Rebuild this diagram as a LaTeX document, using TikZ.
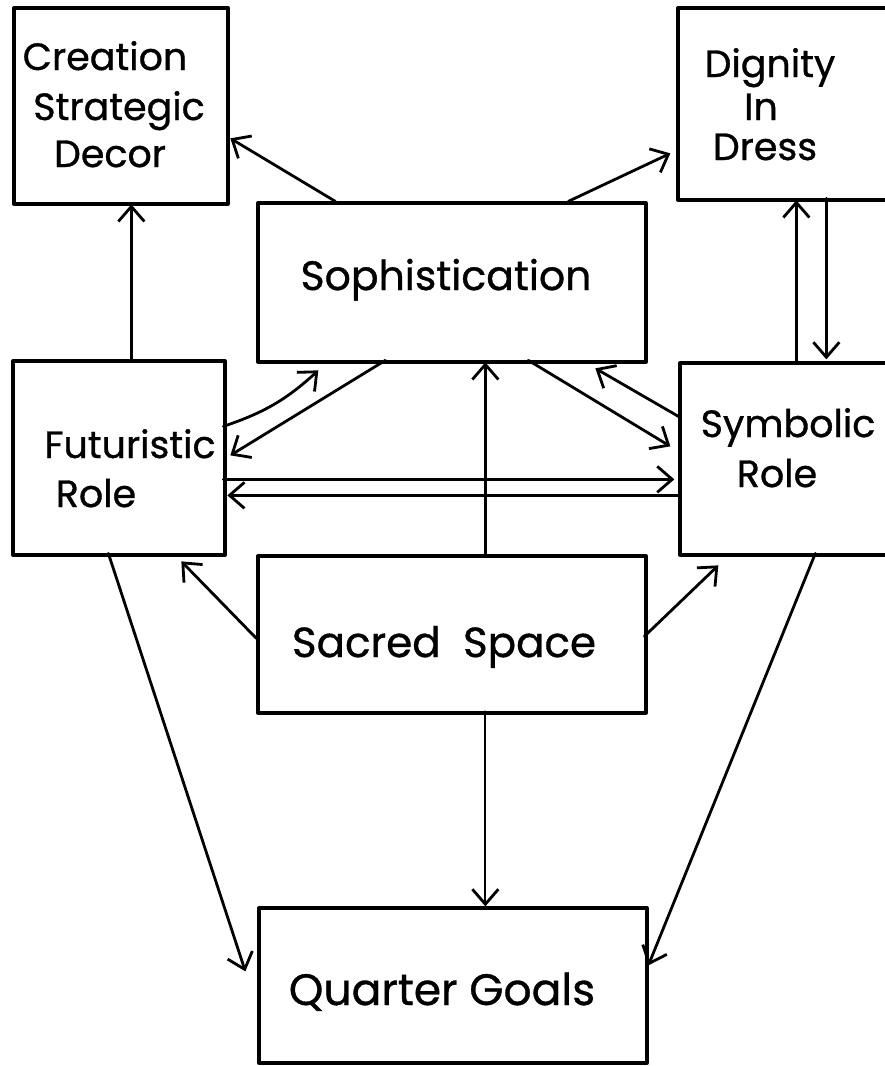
\documentclass[tikz,border=0pt]{standalone}
\usepackage{fontspec}
\setmainfont{Poppins}[FakeBold=0.8]
\usetikzlibrary{arrows.meta,calc}
\begin{document}
\begin{tikzpicture}[x=1pt,y=-1pt,
  box/.style={draw,line width=3.3pt,inner sep=0pt,line join=round},
  lbl/.style={anchor=base,inner sep=0pt,font=\fontsize{38}{46}\selectfont},
  arr/.style={line width=2.8pt,line cap=round,-{Straight Barb[length=15pt,width=26pt,line width=2.8pt]}},
  thinarr/.style={arr,line width=2.2pt},
]
\useasboundingbox (0,0) rectangle (885,1066);
\fill[white] (0,0) rectangle (885,1066);

% boxes
\node[box,minimum width=214pt,minimum height=196pt] (crea) at (121,106) {};
\node[box,minimum width=222pt,minimum height=192pt] (dign) at (789,104) {};
\node[box,minimum width=388pt,minimum height=159pt] (soph) at (452,282.5) {};
\node[box,minimum width=212pt,minimum height=194pt] (futu) at (119,458) {};
\node[box,minimum width=220pt,minimum height=192pt] (symb) at (790,459) {};
\node[box,minimum width=388pt,minimum height=157pt] (sacr) at (452,634.5) {};
\node[box,minimum width=388pt,minimum height=155pt] (quar) at (453,985.5) {};

% labels
\node[lbl] (crea1) at (105,70) {Creation};
\node[lbl] (crea2) at (119,120) {Strategic};
\node[lbl] (crea3) at (110,167) {Decor};
\node[lbl] (dign1) at (770,77) {Dignity};
\node[lbl] (dign2) at (761,120) {In};
\node[lbl] (dign3) at (765,160) {Dress};
\node[lbl,font=\fontsize{41}{46}\selectfont] (sophl) at (446,290) {Sophistication};
\node[lbl] (futu1) at (130,458) {Futuristic};
\node[lbl] (futu2) at (96,507) {Role};
\node[lbl] (symb1) at (788,437) {Symbolic};
\node[lbl] (symb2) at (777,487) {Role};
\node[lbl,font=\fontsize{42}{46}\selectfont] (sacrl) at (444,657) {Sacred\ \ Space};
\node[lbl,font=\fontsize{44}{50}\selectfont] (quarl) at (442,1005) {Quarter Goals};

% connectors
\draw[arr] ($(soph.north west)+(79,0)$) -- ($(crea.north west)+(218,132)$);
\draw[arr] ($(soph.north west)+(312,0)$) -- ($(dign.north west)+(-6,147)$);
\draw[arr] ($(futu.north west)+(120,0)$) -- ($(crea.north west)+(119,198)$);
\draw[arr] ($(symb.north west)+(118,0)$) -- ($(dign.north west)+(120,194)$);
\draw[arr] ($(dign.north west)+(150,192)$) -- ($(symb.north west)+(148,-2)$);
\draw[arr] ($(futu.north west)+(212,67)$) to[bend right=12] ($(soph.north west)+(62,169)$);
\draw[arr] ($(soph.north west)+(129,159)$) -- ($(futu.north west)+(219,96)$);
\draw[arr] ($(futu.north west)+(212,120)$) -- ($(symb.north west)+(-4,118)$);
\draw[arr] ($(symb.north west)+(0,134)$) -- ($(futu.north west)+(216,136)$);
\draw[arr] ($(soph.north west)+(272,159)$) -- ($(symb.north west)+(-8,85)$);
\draw[arr] ($(symb.north west)+(0,55)$) -- ($(soph.north west)+(339,167)$);
\draw[arr] ($(sacr.north west)+(229,0)$) -- ($(soph.north west)+(229,161)$);
\draw[arr] ($(sacr.north west)+(0,84)$) -- ($(futu.north west)+(170,202)$);
\draw[arr] ($(sacr.north west)+(388,82)$) -- ($(symb.north west)+(40,204)$);
\draw[thinarr] ($(sacr.north west)+(229,157)$) -- ($(quar.north west)+(228,0)$);
\draw[arr] ($(futu.north west)+(97,194)$) -- ($(quar.north west)+(-12,65)$);
\draw[arr] ($(symb.north west)+(137,192)$) -- ($(quar.north west)+(391,59)$);
\end{tikzpicture}
\end{document}
